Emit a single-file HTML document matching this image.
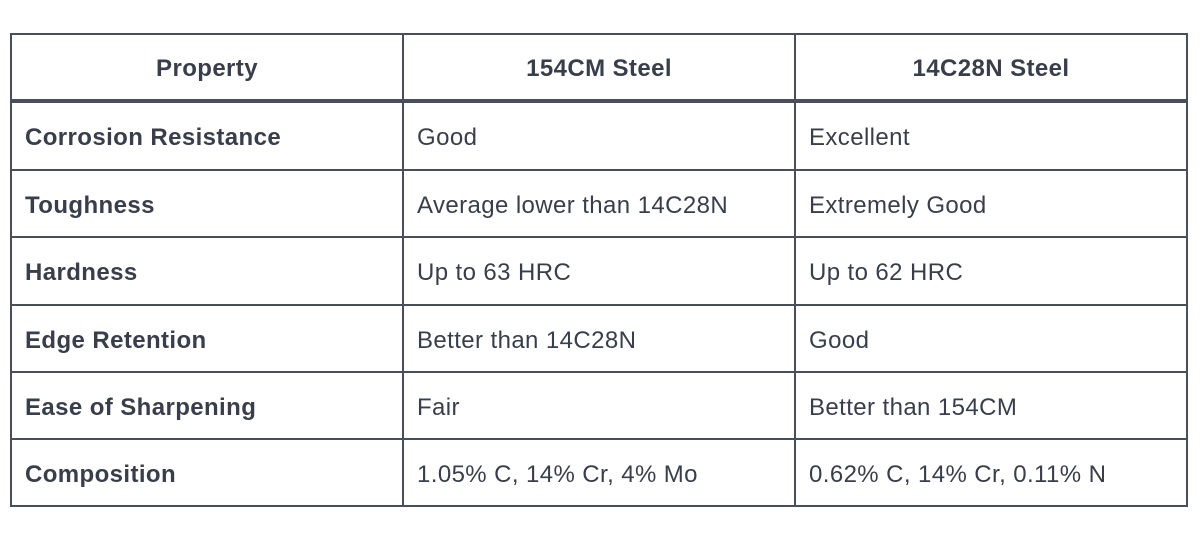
<!DOCTYPE html>
<html><head><style>
body{margin:0;width:1200px;height:544px;background:#fff;position:relative;font-family:"Liberation Sans",sans-serif;color:#3a3e4b;overflow:hidden}
.b{position:absolute;background:#4a4e5a}
.t{position:absolute;font-size:24px;line-height:30px;white-space:nowrap;letter-spacing:0.4px}
.h{font-weight:bold;text-align:center;width:392px}
.k{font-weight:bold}
</style></head><body>
<div class="b" style="left:10px;top:33px;width:1178px;height:2px"></div>
<div class="b" style="left:10px;top:99px;width:1178px;height:4px"></div>
<div class="b" style="left:10px;top:169px;width:1178px;height:2px"></div>
<div class="b" style="left:10px;top:236px;width:1178px;height:2px"></div>
<div class="b" style="left:10px;top:304px;width:1178px;height:2px"></div>
<div class="b" style="left:10px;top:371px;width:1178px;height:2px"></div>
<div class="b" style="left:10px;top:438px;width:1178px;height:2px"></div>
<div class="b" style="left:10px;top:505px;width:1178px;height:2px"></div>
<div class="b" style="left:10px;top:33px;width:2px;height:474px"></div>
<div class="b" style="left:402px;top:33px;width:2px;height:474px"></div>
<div class="b" style="left:794px;top:33px;width:2px;height:474px"></div>
<div class="b" style="left:1186px;top:33px;width:2px;height:474px"></div>

<div class="t h" style="left:11px;top:54px">Property</div>
<div class="t h" style="left:403px;top:54px">154CM Steel</div>
<div class="t h" style="left:795px;top:54px">14C28N Steel</div>

<div class="t k" style="left:25px;top:123px">Corrosion Resistance</div>
<div class="t" style="left:417px;top:123px">Good</div>
<div class="t" style="left:809px;top:123px">Excellent</div>

<div class="t k" style="left:25px;top:191px">Toughness</div>
<div class="t" style="left:417px;top:191px">Average lower than 14C28N</div>
<div class="t" style="left:809px;top:191px">Extremely Good</div>

<div class="t k" style="left:25px;top:258px">Hardness</div>
<div class="t" style="left:417px;top:258px">Up to 63 HRC</div>
<div class="t" style="left:809px;top:258px">Up to 62 HRC</div>

<div class="t k" style="left:25px;top:326px">Edge Retention</div>
<div class="t" style="left:417px;top:326px">Better than 14C28N</div>
<div class="t" style="left:809px;top:326px">Good</div>

<div class="t k" style="left:25px;top:393px">Ease of Sharpening</div>
<div class="t" style="left:417px;top:393px">Fair</div>
<div class="t" style="left:809px;top:393px">Better than 154CM</div>

<div class="t k" style="left:25px;top:460px">Composition</div>
<div class="t" style="left:417px;top:460px">1.05% C, 14% Cr, 4% Mo</div>
<div class="t" style="left:809px;top:460px">0.62% C, 14% Cr, 0.11% N</div>
</body></html>
